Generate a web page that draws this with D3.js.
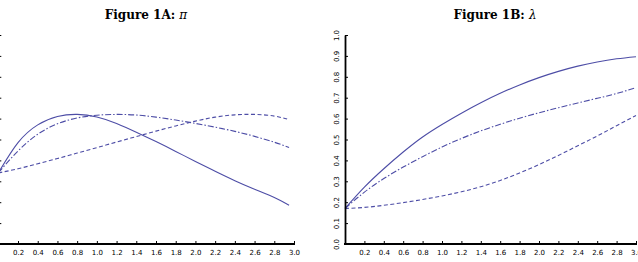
<!DOCTYPE html>
<html>
<head>
<meta charset="utf-8">
<script src="https://cdn.jsdelivr.net/npm/d3@7"></script>
<style>
  body { margin: 0; background: #fff; }
  .tick text { font-family: "DejaVu Sans", sans-serif; font-size: 7px; fill: #000; }
  .title { font-family: "DejaVu Serif", serif; font-size: 12px; font-weight: bold; }
</style>
</head>
<body>
<svg id="chart" width="638" height="262"></svg>
<script>
// x grids (left panel curves stop just short of 3.0)
var xGridA = [0, 0.2, 0.4, 0.6, 0.8, 1.0, 1.2, 1.4, 1.6, 1.8, 2.0, 2.2, 2.4, 2.6, 2.8, 2.95];
var xGridB = [0, 0.2, 0.4, 0.6, 0.8, 1.0, 1.2, 1.4, 1.6, 1.8, 2.0, 2.2, 2.4, 2.6, 2.8, 3.0];

// Figure 1A: pi
var piSolid   = [0.34, 0.485, 0.57, 0.61, 0.62, 0.608, 0.577, 0.535, 0.49, 0.443, 0.395, 0.348, 0.303, 0.262, 0.222, 0.185];
var piDashDot = [0.34, 0.445, 0.525, 0.575, 0.603, 0.616, 0.62, 0.617, 0.607, 0.593, 0.577, 0.559, 0.539, 0.515, 0.487, 0.462];
var piDashed  = [0.34, 0.36, 0.384, 0.409, 0.435, 0.461, 0.488, 0.514, 0.54, 0.565, 0.588, 0.607, 0.618, 0.62, 0.612, 0.595];

// Figure 1B: lambda
var lamSolid   = [0.17, 0.272, 0.36, 0.44, 0.512, 0.572, 0.626, 0.676, 0.721, 0.761, 0.796, 0.826, 0.851, 0.871, 0.886, 0.896];
var lamDashDot = [0.17, 0.248, 0.313, 0.368, 0.418, 0.464, 0.505, 0.541, 0.573, 0.602, 0.628, 0.652, 0.675, 0.697, 0.72, 0.748];
var lamDashed  = [0.17, 0.175, 0.185, 0.198, 0.213, 0.23, 0.25, 0.274, 0.304, 0.34, 0.38, 0.424, 0.47, 0.517, 0.566, 0.615];

var xTicks = d3.range(1, 16).map(function(i) { return i * 0.2; });
var yTicks = d3.range(0, 11).map(function(i) { return i * 0.1; });

var lineColor = "#4d4da6";
var styles = ["none", "6,2,1.5,2", "4,2.5"];

var svg = d3.select("#chart");

var panels = [
    {title: "Figure 1A: ", sym: "\u03c0", x0: -1.7, x1: 294, tx: 146, xs: xGridA,
     series: [piSolid, piDashDot, piDashed], showY: false},
    {title: "Figure 1B: ", sym: "\u03bb", x0: 345, x1: 636, tx: 495, xs: xGridB,
     series: [lamSolid, lamDashDot, lamDashed], showY: true}
];

panels.forEach(function(p) {
    var x = d3.scaleLinear().domain([0, 3]).range([p.x0, p.x1]);
    var y = d3.scaleLinear().domain([0, 1]).range([244, 35]);
    var g = svg.append("g");

    var t = g.append("text")
        .attr("class", "title")
        .attr("x", p.tx)
        .attr("y", 19)
        .attr("text-anchor", "middle");
    t.append("tspan").text(p.title);
    t.append("tspan").attr("font-style", "italic").attr("font-weight", "normal").text(p.sym);

    var line = d3.line()
        .x(function(d) { return x(d[0]); })
        .y(function(d) { return y(d[1]); })
        .curve(d3.curveNatural);

    p.series.forEach(function(s, i) {
        g.append("path")
            .datum(p.xs.map(function(v, j) { return [v, s[j]]; }))
            .attr("fill", "none")
            .attr("stroke", lineColor)
            .attr("stroke-width", 1.1)
            .attr("stroke-dasharray", styles[i])
            .attr("d", line);
    });

    var xAxis = g.append("g")
        .attr("transform", "translate(0,244)")
        .call(d3.axisBottom(x).tickValues(xTicks).tickSizeInner(-3).tickSizeOuter(0)
            .tickPadding(6).tickFormat(d3.format(".1f")));
    xAxis.select(".domain").attr("stroke", "#000").attr("stroke-width", 1.8)
        .attr("d", "M" + (x(0) - 1) + ",0H" + (x(3) + 1));
    xAxis.selectAll(".tick line").attr("stroke", "#000").attr("stroke-width", 1);

    var yAxis = g.append("g")
        .attr("transform", "translate(" + x(0) + ",0)")
        .call(d3.axisLeft(y).tickValues(yTicks).tickSizeInner(-3).tickSizeOuter(0)
            .tickPadding(5).tickFormat(d3.format(".1f")));
    yAxis.select(".domain").attr("stroke", "#000").attr("stroke-width", 1.8);
    yAxis.selectAll(".tick line").attr("stroke", "#000").attr("stroke-width", 1);
    if (p.showY) {
        yAxis.selectAll(".tick text")
            .attr("x", 0).attr("dy", null)
            .attr("text-anchor", "middle")
            .attr("transform", "translate(-8,0) rotate(-90)")
            .attr("dominant-baseline", "middle");
    } else {
        yAxis.selectAll(".tick text").remove();
    }
});
</script>
</body>
</html>
